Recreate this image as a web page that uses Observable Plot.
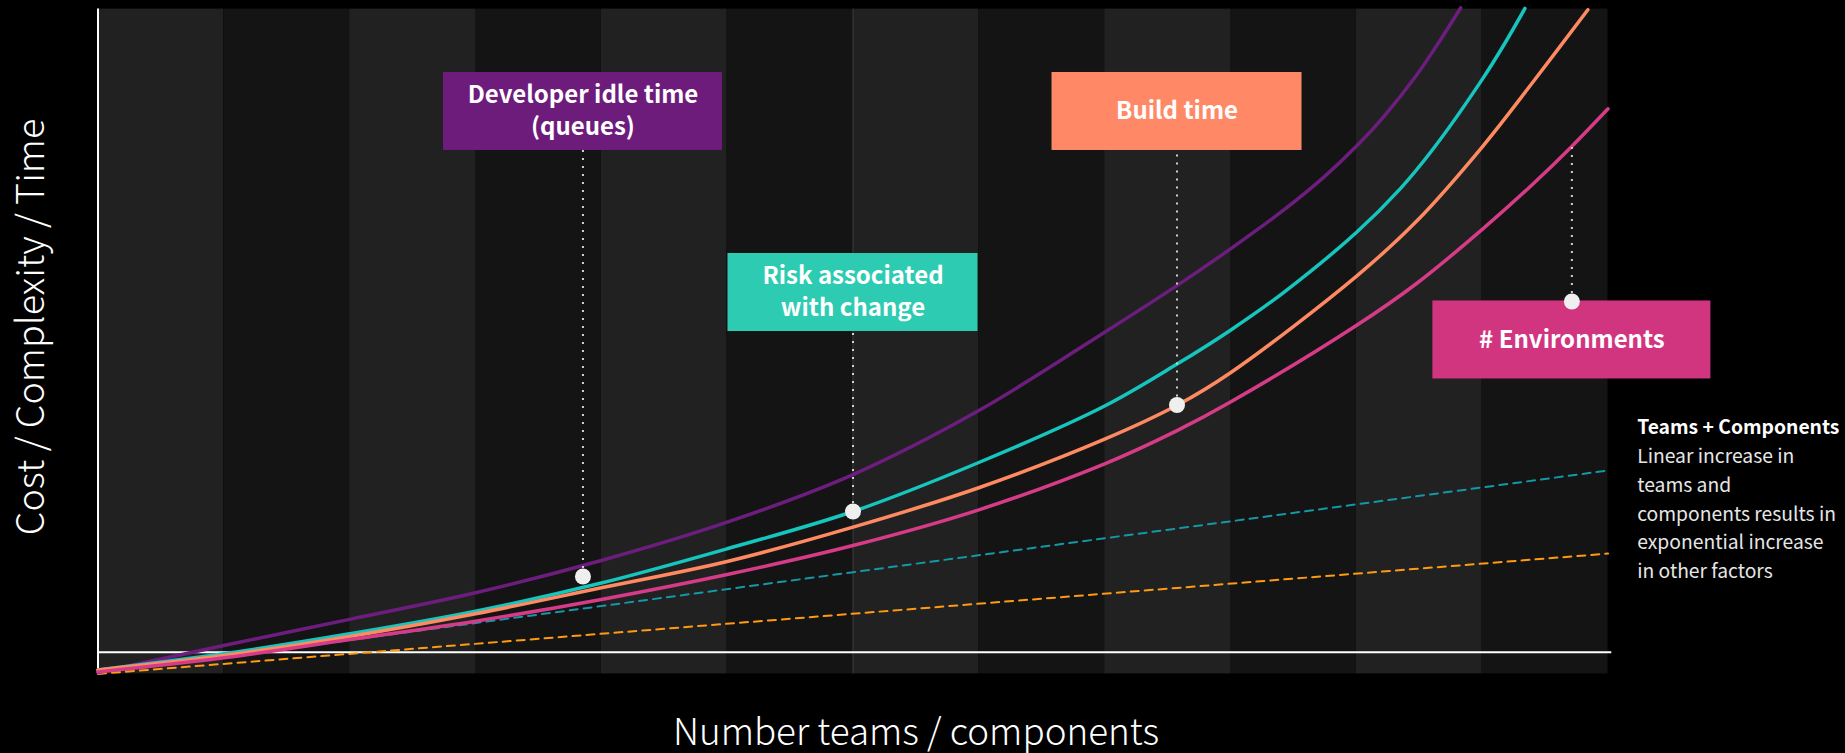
<!DOCTYPE html>
<html>
<head>
<meta charset="utf-8">
<script src="https://cdn.jsdelivr.net/npm/d3@7"></script>
<script src="https://cdn.jsdelivr.net/npm/@observablehq/plot@0.6"></script>
<style>
  html, body { margin: 0; padding: 0; background: #000; }
  #chart svg { display: block; }
</style>
</head>
<body>
<div id="chart"></div>
<script>
// x: number of teams / components, one shaded band per step (0–12)
// y: relative cost / complexity / time (0–100)

// Developer idle time (queues)
const idleX    = [0, 1, 2, 3, 4, 5, 6, 7, 8, 8.577, 9, 9.424, 9.742, 10, 10.218, 10.484, 10.669, 10.83];
const idleTime = [0.2, 4.27, 8.2, 12.2, 17.06, 22.82, 29.99, 39.62, 51.4, 58.44, 63.94, 69.79, 74.72, 79.36, 83.83, 90.21, 95.39, 100.2];

// Risk associated with change
const riskX = [0, 1, 2, 3, 4, 5, 6, 7, 8, 8.575, 9, 9.424, 10, 10.35, 10.616, 11.003, 11.172, 11.34];
const risk  = [0.6, 3.02, 6.03, 9.43, 13.67, 18.82, 24.43, 31.8, 40.3, 46.6, 51.7, 57.4, 66.4, 73.0, 79.1, 89.5, 94.6, 100.1];

// Build time
const buildX    = [0, 1, 2, 3, 4, 5, 6, 7, 8, 8.575, 9, 10, 10.484, 11.003, 11.41, 11.84];
const buildTime = [0.6, 2.77, 5.63, 9.04, 12.95, 16.91, 22.07, 28.0, 35.3, 40.4, 45.3, 59.8, 68.2, 79.33, 89.18, 99.9];

// # Environments
const envX         = [0, 1, 2, 3, 4, 5, 6, 7, 8, 8.575, 9, 10, 10.484, 11.003, 11.41, 11.71, 12];
const environments = [0.3, 2.42, 5.17, 7.93, 11.2, 14.95, 19.31, 24.68, 31.6, 36.6, 40.9, 52.4, 58.8, 66.9, 73.8, 79.3, 85.0];

// Linear growth of teams and components
const linearX    = [0, 12];
const teams      = [0, 30.6];
const components = [0, 18.1];

// Reference level drawn as a white rule
const baselineLevel = 3.26;

// Call-outs: label text, x of the call-out, label centre, marker and top of the leader
const calloutText    = ["Developer idle time\n(queues)", "Risk associated\nwith change", "Build time", "# Environments"];
const calloutX       = [3.854, 6, 8.575, 11.713];
const calloutLabelY  = [84.6, 57.37, 84.6, 50.23];
const calloutMarkerY = [14.65, 24.43, 40.45, 56.02];
const calloutLeaderY = [78.73, 51.5, 78.73, 79.6];

const yTitle = "Cost / Complexity / Time";
const xTitle = "Number teams / components";
const noteTitle = "Teams + Components";
const noteLines = ["Linear increase in", "teams and", "components results in", "exponential increase", "in other factors"];

// ---- layout & style ----
const W = 1845, H = 753;
const M = {top: 8.6, right: 237.5, bottom: 79.6, left: 97.5};
const X_MAX = 12, Y_MAX = 100;
const pxPerX = (W - M.left - M.right) / X_MAX;
const pxPerY = (H - M.top - M.bottom) / Y_MAX;

const FONT = '"Noto Sans CJK SC", "Source Sans Pro", Lato, sans-serif';
const colors = {
  idle: "#6C1D7E", risk: "#16C5BD", build: "#FF8A62", env: "#D63B87",
  teams: "#1597A7", components: "#FF9A12",
  bandLight: "#212121", bandDark: "#141414"
};
const boxFill = ["#6E1C7C", "#2ECBB3", "#FF8966", "#D13580"];
const boxWidthPx = [279, 250, 250, 278];
const boxHeightPx = 78;

const toRows = (xs, ys) => xs.map((x, i) => ({x, y: ys[i]}));
const bands = d3.range(X_MAX).map(i => ({x1: i, x2: i + 1, fill: i % 2 ? colors.bandDark : colors.bandLight}));

const callouts = calloutText.map((text, i) => ({
  text,
  x: calloutX[i],
  labelY: calloutLabelY[i],
  markerY: calloutMarkerY[i],
  leaderY: calloutLeaderY[i],
  fill: boxFill[i],
  halfW: boxWidthPx[i] / 2 / pxPerX,
  halfH: boxHeightPx / 2 / pxPerY
}));

const curve = (xs, ys, stroke) =>
  Plot.line(toRows(xs, ys), {x: "x", y: "y", stroke, strokeWidth: 3.5, curve: "catmull-rom"});

const chart = Plot.plot({
  width: W,
  height: H,
  marginTop: M.top,
  marginRight: M.right,
  marginBottom: M.bottom,
  marginLeft: M.left,
  x: {domain: [0, X_MAX], axis: null},
  y: {domain: [0, Y_MAX], axis: null},
  style: {background: "#000", fontFamily: FONT, overflow: "visible"},
  marks: [
    // alternating column shading
    Plot.rect(bands, {x1: "x1", x2: "x2", y1: 0, y2: Y_MAX, fill: "fill"}),
    Plot.ruleX([X_MAX / 2], {y1: 0, y2: Y_MAX, stroke: "#3c3c3c", strokeWidth: 1}),

    // axes
    Plot.ruleX([0], {y1: 0.4, y2: Y_MAX, stroke: "#ffffff", strokeWidth: 2}),
    Plot.ruleY([baselineLevel], {x1: 0, x2: X_MAX + 0.03, stroke: "#ffffff", strokeWidth: 2}),

    // linear growth
    Plot.line(toRows(linearX, teams), {x: "x", y: "y", stroke: colors.teams, strokeWidth: 2, strokeDasharray: "8 6"}),
    Plot.line(toRows(linearX, components), {x: "x", y: "y", stroke: colors.components, strokeWidth: 2, strokeDasharray: "8 6"}),

    // exponential growth
    curve(idleX, idleTime, colors.idle),
    curve(riskX, risk, colors.risk),
    curve(buildX, buildTime, colors.build),
    curve(envX, environments, colors.env),

    // call-outs
    Plot.ruleX(callouts, {x: "x", y1: "markerY", y2: "leaderY", stroke: "#d2d2d2", strokeWidth: 2, strokeDasharray: "2 6"}),
    Plot.rect(callouts, {
      x1: d => d.x - d.halfW, x2: d => d.x + d.halfW,
      y1: d => d.labelY - d.halfH, y2: d => d.labelY + d.halfH,
      fill: "fill"
    }),
    Plot.text(callouts, {x: "x", y: "labelY", text: "text", dy: -2.5, fill: "#ffffff", fontSize: 24, fontWeight: 700, lineHeight: 1.32}),
    Plot.dot(callouts, {x: "x", y: "markerY", r: 8, fill: "#efefef", stroke: null}),

    // axis titles
    Plot.text([yTitle], {frameAnchor: "left", textAnchor: "middle", lineAnchor: "middle", rotate: -90, dx: -66.3, dy: -14.5, fontSize: 37.7, fontWeight: 300, fill: "#ffffff"}),
    Plot.text([xTitle], {frameAnchor: "bottom", textAnchor: "middle", lineAnchor: "middle", dx: 63, dy: 59.6, fontSize: 36.8, fontWeight: 300, fill: "#ffffff"}),

    // side note
    Plot.text([noteTitle], {frameAnchor: "top-right", textAnchor: "start", lineAnchor: "top", dx: 29.2, dy: 411, fontSize: 19.3, fontWeight: 700, fill: "#ffffff"}),
    Plot.text([noteLines.join("\n")], {frameAnchor: "top-right", textAnchor: "start", lineAnchor: "top", dx: 29.2, dy: 433, fontSize: 19.3, lineHeight: 1.5, fill: "#e6e6e6"})
  ]
});

document.getElementById("chart").append(chart);
</script>
</body>
</html>
